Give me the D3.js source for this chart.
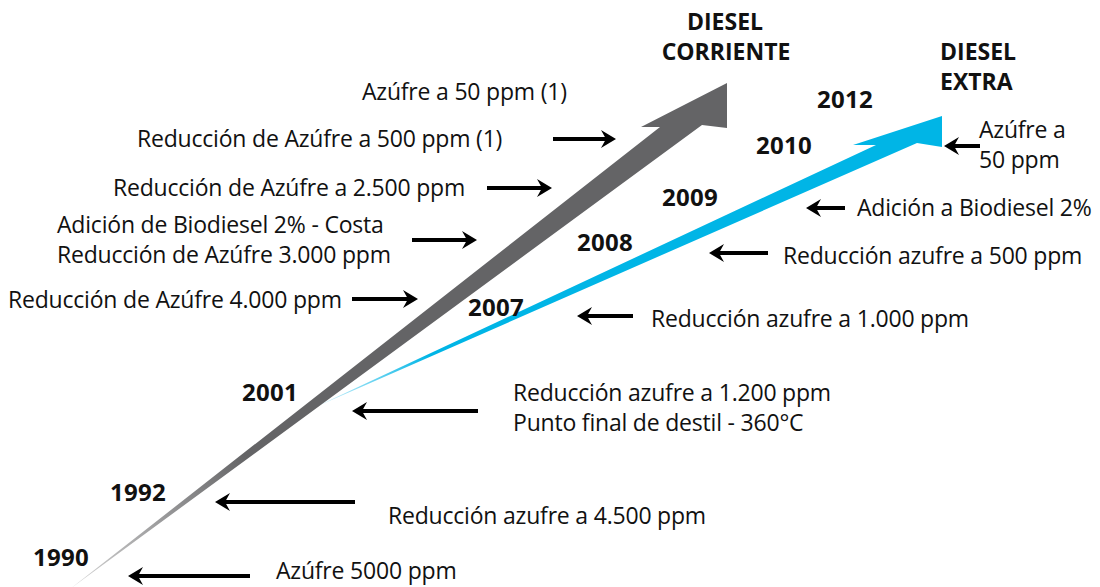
<!DOCTYPE html>
<html>
<head>
<meta charset="utf-8">
<script src="https://cdn.jsdelivr.net/npm/d3@7"></script>
<style>
  body { margin: 0; background: #fff; }
  svg text { font-family: "Open Sans", "Noto Sans", sans-serif; fill: #111; }
  .year { font-weight: 700; font-size: 24px; letter-spacing: 0.3px; }
  .head { font-weight: 700; font-size: 23px; }
  .event { font-size: 23px; letter-spacing: -0.2px; }
</style>
</head>
<body>
<div id="graphic"></div>
<script>
// series names
var series = ["DIESEL CORRIENTE", "DIESEL EXTRA"];

// years shown along the timeline
var years = ["1990", "1992", "2001", "2007", "2008", "2009", "2010", "2012"];

// events for diesel corriente (grey arrow)
var corrienteYears = ["1990", "1992", "2001", "2007", "2008", "2009", "2010", "2012"];
var corrienteText = [
	["Azúfre 5000 ppm"],
	["Reducción azufre a 4.500 ppm"],
	["Reducción azufre a 1.200 ppm", "Punto final de destil - 360°C"],
	["Reducción de Azúfre 4.000 ppm"],
	["Adición de Biodiesel 2% - Costa", "Reducción de Azúfre 3.000 ppm"],
	["Reducción de Azúfre a 2.500 ppm"],
	["Reducción de Azúfre a 500 ppm (1)"],
	["Azúfre a 50 ppm (1)"]
];

// events for diesel extra (blue arrow)
var extraYears = ["2007", "2008", "2009", "2010"];
var extraText = [
	["Reducción azufre a 1.000 ppm"],
	["Reducción azufre a 500 ppm"],
	["Adición a Biodiesel 2%"],
	["Azúfre a", "50 ppm"]
];

var width = 1100,
	height = 587;

// layout: where each year label sits (left x, middle y)
var yearPos = {
	"1990": [33, 558], "1992": [110, 493], "2001": [242, 393], "2007": [468, 308],
	"2008": [577, 243], "2009": [662, 198], "2010": [756, 146], "2012": [817, 100]
};

// layout for the grey arrow's notes: text left x, first line y, arrow x1 -> x2, arrow y
var corrienteLayout = [
	{ tx: 276, ty: 571, ax: [250, 128], ay: 576 },
	{ tx: 388, ty: 516, ax: [355, 215], ay: 502 },
	{ tx: 513, ty: 393, ax: [478, 352], ay: 411 },
	{ tx: 8, ty: 300, ax: [352, 418], ay: 299 },
	{ tx: 57, ty: 225, ax: [412, 477], ay: 240 },
	{ tx: 113, ty: 188, ax: [487, 552], ay: 188 },
	{ tx: 137, ty: 139, ax: [553, 616], ay: 139 },
	{ tx: 362, ty: 92, ax: null, ay: null }
];
var extraLayout = [
	{ tx: 651, ty: 319, ax: [633, 577], ay: 316 },
	{ tx: 783, ty: 256, ax: [768, 709], ay: 253 },
	{ tx: 857, ty: 208, ax: [845, 806], ay: 208 },
	{ tx: 979, ty: 130, ax: [980, 944], ay: 146 }
];

// arrow geometry: tail point, shaft end (upper, lower), barb, tip top, tip bottom
var arrowGeom = [
	{ tail: [70, 589], up: [660, 127], low: [702, 125], barb: [641, 127], tipT: [727, 83], tipB: [727, 128],
	  color: "#646466", fade: "#d6d6d6", fadeEnd: [245, 455] },
	{ tail: [311, 409], up: [876, 145], low: [917, 143], barb: [853, 145], tipT: [942, 116], tipB: [942, 147],
	  color: "#00b5e6", fade: "#e0f6fd", fadeEnd: [430, 356] }
];

var svg = d3.select("#graphic").append("svg")
	.attr("width", width)
	.attr("height", height);

var defs = svg.append("defs");

var line = d3.line();

// draw blue first so the grey arrow sits over its tail
[1, 0].forEach(function(k) {
	var g = arrowGeom[k];
	var grad = defs.append("linearGradient")
		.attr("id", "fade" + k)
		.attr("gradientUnits", "userSpaceOnUse")
		.attr("x1", g.tail[0]).attr("y1", g.tail[1])
		.attr("x2", g.fadeEnd[0]).attr("y2", g.fadeEnd[1]);
	grad.append("stop").attr("offset", 0).attr("stop-color", g.fade);
	grad.append("stop").attr("offset", 1).attr("stop-color", g.color);

	svg.append("path")
		.attr("d", line([g.tail, g.up, g.barb, g.tipT, g.tipB, g.low]) + "Z")
		.attr("fill", "url(#fade" + k + ")");
});

// black pointer arrows
function pointer(x1, x2, y) {
	var dir = x2 > x1 ? 1 : -1;
	svg.append("line")
		.attr("x1", x1).attr("x2", x2 - dir * 8)
		.attr("y1", y).attr("y2", y)
		.attr("stroke", "#000")
		.attr("stroke-width", 4);
	svg.append("path")
		.attr("d", line([
			[x2, y],
			[x2 - dir * 15, y - 9],
			[x2 - dir * 10, y],
			[x2 - dir * 15, y + 9]
		]) + "Z")
		.attr("fill", "#000");
}

function notes(texts, layout) {
	texts.forEach(function(lines, i) {
		var l = layout[i];
		var t = svg.append("text")
			.attr("class", "event")
			.attr("x", l.tx)
			.attr("y", l.ty);
		lines.forEach(function(s, j) {
			t.append("tspan")
				.attr("x", l.tx)
				.attr("dy", j ? 30 : "0.35em")
				.text(s);
		});
		if (l.ax) pointer(l.ax[0], l.ax[1], l.ay);
	});
}

notes(corrienteText, corrienteLayout);
notes(extraText, extraLayout);

// year labels
svg.selectAll(".year")
	.data(years)
	.enter()
	.append("text")
	.attr("class", "year")
	.attr("x", function(d) { return yearPos[d][0]; })
	.attr("y", function(d) { return yearPos[d][1]; })
	.attr("dy", "0.35em")
	.text(function(d) { return d; });

// series titles
svg.append("text").attr("class", "head")
	.attr("text-anchor", "middle")
	.attr("x", 725).attr("y", 22).attr("dy", "0.35em")
	.text("DIESEL");
svg.append("text").attr("class", "head")
	.attr("text-anchor", "middle")
	.attr("x", 726).attr("y", 52).attr("dy", "0.35em")
	.text("CORRIENTE");
svg.append("text").attr("class", "head")
	.attr("x", 940).attr("y", 52).attr("dy", "0.35em")
	.text("DIESEL");
svg.append("text").attr("class", "head")
	.attr("x", 940).attr("y", 82).attr("dy", "0.35em")
	.text("EXTRA");
</script>
</body>
</html>
